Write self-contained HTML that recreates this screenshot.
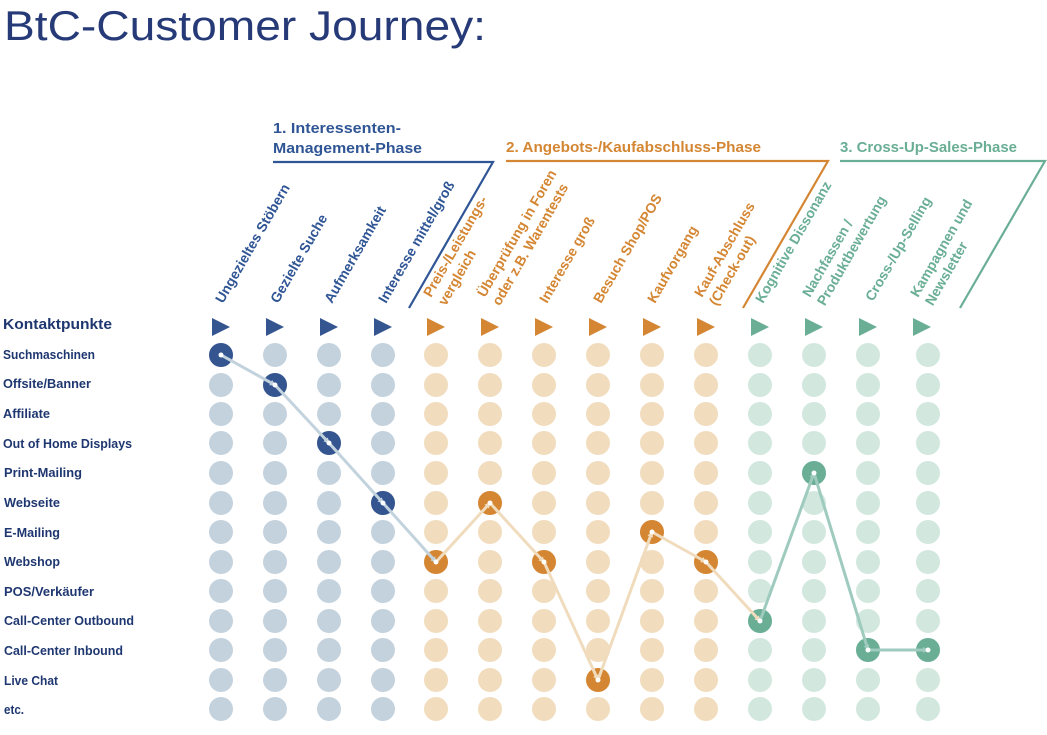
<!DOCTYPE html>
<html><head><meta charset="utf-8"><style>
html,body{margin:0;padding:0;background:#fff;}
svg{display:block;}
text{font-family:"Liberation Sans",sans-serif;}
</style></head><body>
<svg width="1047" height="735" viewBox="0 0 1047 735" xmlns="http://www.w3.org/2000/svg">
<defs>
<marker id="ab" markerWidth="6" markerHeight="6" refX="5" refY="3" orient="auto" markerUnits="userSpaceOnUse"><path d="M0,0 L6,3 L0,6 z" fill="#c3d3de"/></marker>
<marker id="ao" markerWidth="6" markerHeight="6" refX="5" refY="3" orient="auto" markerUnits="userSpaceOnUse"><path d="M0,0 L6,3 L0,6 z" fill="#f0dcbd"/></marker>
<marker id="at" markerWidth="6" markerHeight="6" refX="5" refY="3" orient="auto" markerUnits="userSpaceOnUse"><path d="M0,0 L6,3 L0,6 z" fill="#9fcbbf"/></marker>
</defs>
<text x="4" y="40" font-size="42" fill="#263a78" textLength="482" lengthAdjust="spacingAndGlyphs">BtC-Customer Journey:</text>

<g font-weight="bold" font-size="15">
<text x="273" y="133" fill="#2f5595" textLength="128" lengthAdjust="spacingAndGlyphs">1. Interessenten-</text>
<text x="273" y="153" fill="#2f5595" textLength="149" lengthAdjust="spacingAndGlyphs">Management-Phase</text>
<text x="506" y="152" fill="#d48633" textLength="255" lengthAdjust="spacingAndGlyphs">2. Angebots-/Kaufabschluss-Phase</text>
<text x="840" y="152" fill="#6aae96" textLength="177" lengthAdjust="spacingAndGlyphs">3. Cross-Up-Sales-Phase</text>
</g>
<g fill="none" stroke-width="2.2">
<polyline points="273,162 493,162 409,308" stroke="#2f5595"/>
<polyline points="506,161 828,161 743,308" stroke="#d48633"/>
<polyline points="840,161 1045,161 960,308" stroke="#6aae96"/>
</g>

<g font-weight="bold" font-size="14">
<g fill="#2f5595">
<text transform="translate(223,304) rotate(-60)">Ungezieltes Stöbern</text>
<text transform="translate(278,304) rotate(-60)">Gezielte Suche</text>
<text transform="translate(332,304) rotate(-60)">Aufmerksamkeit</text>
<text transform="translate(386,304) rotate(-60)">Interesse mittel/groß</text>
</g>
<g fill="#d48633">
<text transform="translate(431,298) rotate(-60)">Preis-/Leistungs-<tspan x="0" dy="17">vergleich</tspan></text>
<text transform="translate(485,298) rotate(-60)">Überprüfung in Foren<tspan x="0" dy="17">oder z.B. Warentests</tspan></text>
<text transform="translate(547,304) rotate(-60)">Interesse groß</text>
<text transform="translate(601,304) rotate(-60)">Besuch Shop/POS</text>
<text transform="translate(655,304) rotate(-60)">Kaufvorgang</text>
<text transform="translate(702,298) rotate(-60)">Kauf-Abschluss<tspan x="0" dy="17">(Check-out)</tspan></text>
</g>
<g fill="#6aae96">
<text transform="translate(763,304) rotate(-60)">Kognitive Dissonanz</text>
<text transform="translate(810,298) rotate(-60)">Nachfassen /<tspan x="0" dy="17">Produktbewertung</tspan></text>
<text transform="translate(873,302) rotate(-60)">Cross-/Up-Selling</text>
<text transform="translate(918,298) rotate(-60)">Kampagnen und<tspan x="0" dy="17">Newsletter</tspan></text>
</g>
</g>

<g font-weight="bold" fill="#1f3770">
<text x="3" y="329" font-size="15" textLength="109" lengthAdjust="spacingAndGlyphs">Kontaktpunkte</text>
<g font-size="13">
<text x="3" y="359" textLength="92" lengthAdjust="spacingAndGlyphs">Suchmaschinen</text>
<text x="3" y="388" textLength="88" lengthAdjust="spacingAndGlyphs">Offsite/Banner</text>
<text x="3" y="418" textLength="47" lengthAdjust="spacingAndGlyphs">Affiliate</text>
<text x="3" y="448" textLength="129" lengthAdjust="spacingAndGlyphs">Out of Home Displays</text>
<text x="4" y="477" textLength="78" lengthAdjust="spacingAndGlyphs">Print-Mailing</text>
<text x="4" y="507" textLength="56" lengthAdjust="spacingAndGlyphs">Webseite</text>
<text x="4" y="537" textLength="56" lengthAdjust="spacingAndGlyphs">E-Mailing</text>
<text x="4" y="566" textLength="56" lengthAdjust="spacingAndGlyphs">Webshop</text>
<text x="4" y="596" textLength="90" lengthAdjust="spacingAndGlyphs">POS/Verkäufer</text>
<text x="4" y="625" textLength="130" lengthAdjust="spacingAndGlyphs">Call-Center Outbound</text>
<text x="4" y="655" textLength="119" lengthAdjust="spacingAndGlyphs">Call-Center Inbound</text>
<text x="4" y="685" textLength="54" lengthAdjust="spacingAndGlyphs">Live Chat</text>
<text x="4" y="714" textLength="20" lengthAdjust="spacingAndGlyphs">etc.</text>
</g>
</g>

<g id="grid"></g>
<script>
(function(){
var ns="http://www.w3.org/2000/svg";
var g=document.getElementById("grid");
var cols=[221,275,329,383,436,490,544,598,652,706,760,814,868,928];
var tri=[221,275,329,383,436,490,544,598,652,706,760,814,868,922];
var rows=[355,385,414,443,473,503,532,562,591,621,650,680,709];
function ph(c){return c<4?0:(c<10?1:2);}
var dark=["#34558f","#d48633","#6aae96"];
var light=["#c4d2de","#f1dcbd","#d2e8df"];
var lineC=["#c3d3de","#f0dcbd","#9fcbbf"];
var mk=["ab","ao","at"];
function el(n,a){var e=document.createElementNS(ns,n);for(var k in a)e.setAttribute(k,a[k]);g.appendChild(e);return e;}
for(var c=0;c<14;c++){
 var x=tri[c];
 el("polygon",{points:(x-9)+",318 "+(x+9)+",327 "+(x-9)+",336",fill:dark[ph(c)]});
 for(var r=0;r<13;r++) el("circle",{cx:cols[c],cy:rows[r],r:12,fill:light[ph(c)]});
}
var act=[0,1,3,5,7,5,7,11,6,7,9,4,10,10];
for(var c=0;c<14;c++) el("circle",{cx:cols[c],cy:rows[act[c]],r:12,fill:dark[ph(c)]});
for(var c=0;c<13;c++){
 var p=ph(c);
 el("line",{x1:cols[c],y1:rows[act[c]],x2:cols[c+1],y2:rows[act[c+1]],stroke:lineC[p],"stroke-width":3,"marker-end":"url(#"+mk[p]+")"});
}
for(var c=0;c<14;c++) el("circle",{cx:cols[c],cy:rows[act[c]],r:2.5,fill:"#fff"});
})();
</script>
</svg>
</body></html>
